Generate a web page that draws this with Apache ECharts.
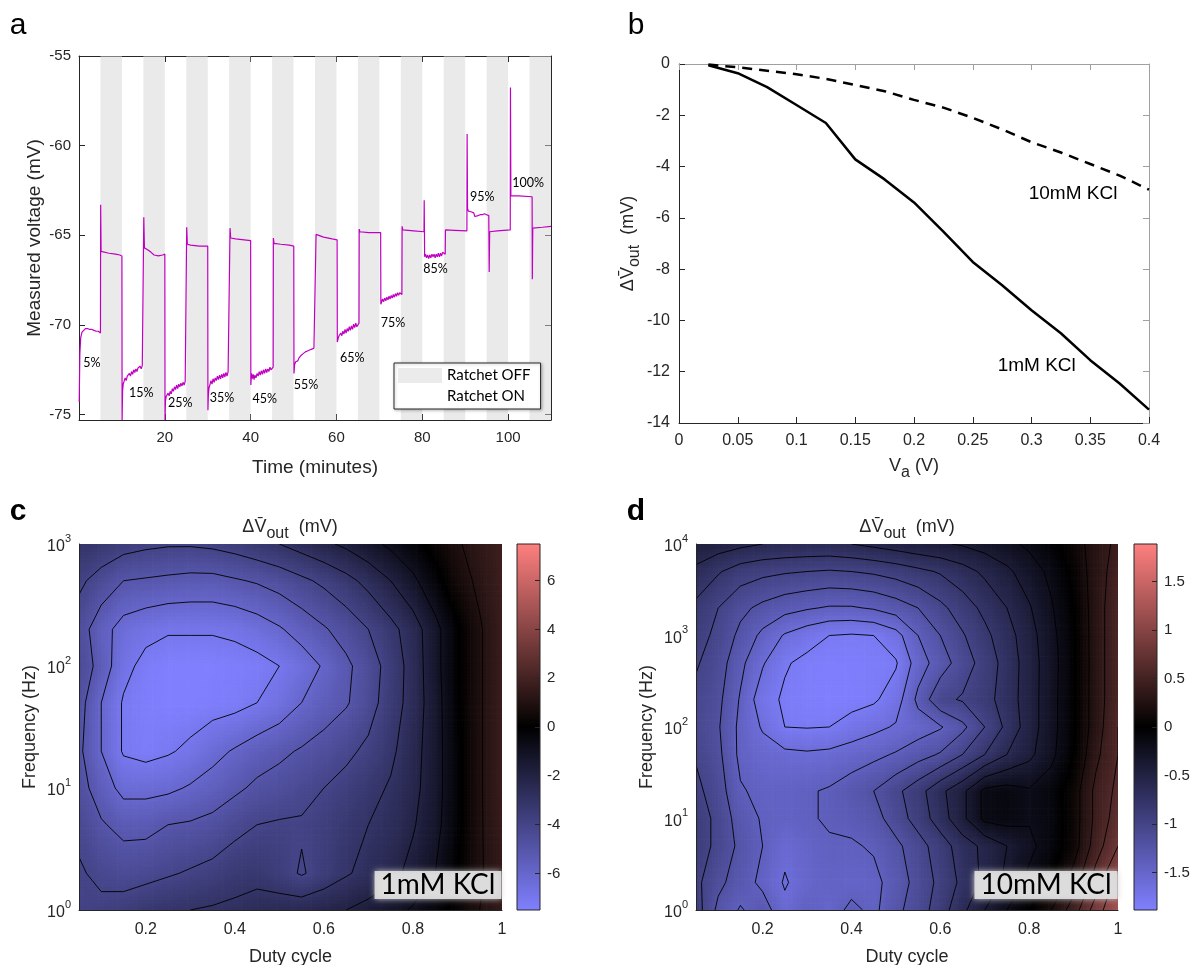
<!DOCTYPE html>
<html>
<head>
<meta charset="utf-8">
<script src="https://cdn.jsdelivr.net/npm/echarts@6/dist/echarts.min.js"></script>
<style>
  html, body { margin: 0; padding: 0; background: #fff; }
  #main { width: 1191px; height: 965px; }
</style>
</head>
<body>
<div id="main"></div>
<script>
// ---- panel a: measured voltage trace, [minutes, mV]
const trace = [
  // ON 5%
  [0.05,-74.3],[0.2,-71.6],[0.4,-70.7],[0.7,-70.4],[1.0,-70.3],[1.5,-70.2],[2.0,-70.2],[2.5,-70.25],[3.0,-70.25],[3.5,-70.3],[4.0,-70.35],[4.5,-70.35],[5.0,-70.45],
  // OFF
  [5.05,-63.3],[5.15,-65.9],[5.5,-65.95],[7.0,-66.0],[8.5,-66.05],[9.5,-66.1],[10.0,-66.15],
  // ON 15%
  [10.05,-75.3],[10.15,-73.7],[10.3,-73.3],[10.5,-73.15],[10.75,-72.95],[11.0,-73.1],[11.25,-72.85],[11.5,-72.95],[11.75,-72.7],[12.0,-72.85],[12.25,-72.6],[12.5,-72.75],[12.75,-72.5],[13.0,-72.65],[13.25,-72.45],[13.5,-72.6],[13.75,-72.4],[14.0,-72.5],[14.25,-72.3],[14.5,-72.45],[14.75,-72.25],[15.05,-72.35],
  // OFF
  [15.1,-64.0],[15.25,-65.7],[16.0,-65.8],[16.8,-65.95],[17.5,-66.1],[18.5,-66.15],[19.5,-66.1],[20.0,-66.05],
  // ON 25%
  [20.05,-75.3],[20.15,-74.25],[20.3,-74.0],[20.5,-74.1],[20.75,-73.8],[21.0,-73.95],[21.25,-73.7],[21.5,-73.85],[21.75,-73.55],[22.0,-73.7],[22.25,-73.45],[22.5,-73.6],[22.75,-73.35],[23.0,-73.55],[23.25,-73.3],[23.5,-73.45],[23.75,-73.25],[24.0,-73.4],[24.25,-73.2],[24.5,-73.35],[24.75,-73.15],[25.05,-73.25],
  // OFF
  [25.1,-64.55],[25.25,-65.5],[26.0,-65.55],[28.0,-65.6],[30.0,-65.6],
  // ON 35%
  [30.05,-74.75],[30.15,-73.9],[30.3,-73.5],[30.5,-73.35],[30.75,-73.1],[31.0,-73.3],[31.25,-73.0],[31.5,-73.2],[31.75,-72.95],[32.0,-73.1],[32.25,-72.85],[32.5,-73.05],[32.75,-72.8],[33.0,-73.0],[33.25,-72.75],[33.5,-72.95],[33.75,-72.7],[34.0,-72.9],[34.25,-72.65],[34.5,-72.85],[34.75,-72.6],[35.15,-72.7],
  // OFF
  [35.2,-64.6],[35.35,-65.15],[36.5,-65.2],[38.5,-65.25],[40.0,-65.3],
  // ON 45%
  [40.05,-73.35],[40.2,-72.7],[40.4,-73.0],[40.6,-72.75],[40.8,-73.05],[41.0,-72.8],[41.25,-72.95],[41.5,-72.7],[41.75,-72.85],[42.0,-72.6],[42.25,-72.8],[42.5,-72.55],[42.75,-72.75],[43.0,-72.5],[43.25,-72.7],[43.5,-72.45],[43.75,-72.65],[44.0,-72.45],[44.25,-72.6],[44.5,-72.35],[44.75,-72.5],[45.25,-72.35],
  // OFF
  [45.3,-65.15],[45.45,-65.45],[47.0,-65.5],[49.0,-65.55],[50.05,-65.6],
  // ON 55%
  [50.1,-72.7],[50.25,-72.2],[50.5,-72.05],[50.75,-71.95],[51.0,-72.0],[51.25,-71.85],[51.5,-71.9],[51.75,-71.7],[52.0,-71.8],[52.25,-71.6],[52.5,-71.7],[52.75,-71.5],[53.0,-71.6],[53.25,-71.45],[53.5,-71.55],[53.75,-71.4],[54.0,-71.5],[54.25,-71.35],[54.5,-71.45],[54.75,-71.3],[55.2,-71.35],
  // OFF
  [55.25,-64.95],[55.4,-65.0],[57.0,-65.1],[59.0,-65.2],[60.15,-65.25],
  // ON 65%
  [60.2,-70.95],[60.4,-70.75],[60.6,-70.6],[60.8,-70.7],[61.0,-70.45],[61.25,-70.6],[61.5,-70.35],[61.75,-70.5],[62.0,-70.25],[62.25,-70.45],[62.5,-70.2],[62.75,-70.35],[63.0,-70.1],[63.25,-70.3],[63.5,-70.05],[63.75,-70.25],[64.0,-69.95],[64.25,-70.15],[64.5,-69.9],[64.75,-70.1],[65.25,-69.9],
  // OFF
  [65.3,-64.65],[65.45,-64.8],[67.5,-64.85],[70.3,-64.85],
  // ON 75%
  [70.35,-68.85],[70.5,-68.75],[70.75,-68.55],[71.0,-68.7],[71.25,-68.5],[71.5,-68.65],[71.75,-68.45],[72.0,-68.6],[72.25,-68.4],[72.5,-68.55],[72.75,-68.35],[73.0,-68.5],[73.25,-68.3],[73.5,-68.45],[73.75,-68.25],[74.0,-68.4],[74.25,-68.2],[74.5,-68.35],[74.75,-68.2],[75.25,-68.3],
  // OFF
  [75.3,-64.5],[75.45,-64.7],[78.0,-64.75],[80.4,-64.8],
  // ON 85%
  [80.45,-63.05],[80.55,-66.2],[80.75,-66.05],[81.0,-66.25],[81.25,-66.1],[81.5,-66.3],[81.75,-66.1],[82.0,-66.25],[82.25,-66.05],[82.5,-66.2],[82.75,-66.05],[83.0,-66.25],[83.25,-66.05],[83.5,-66.2],[83.75,-66.0],[84.0,-66.2],[84.25,-66.0],[84.5,-66.15],[84.75,-65.95],[85.35,-66.05],
  // OFF
  [85.4,-64.7],[87.5,-64.72],[90.4,-64.75],
  // ON 95%
  [90.45,-59.35],[90.55,-63.5],[90.75,-63.65],[91.0,-63.6],[91.5,-63.7],[92.0,-63.75],[92.25,-63.95],[92.5,-64.0],[93.0,-63.9],[93.5,-63.85],[94.0,-63.85],[94.5,-63.8],[95.0,-63.85],[95.5,-63.9],
  // OFF
  [95.6,-67.05],[95.7,-64.8],[97.5,-64.75],[100.5,-64.7],
  // ON 100%
  [100.55,-56.75],[100.65,-62.8],[102.5,-62.8],[105.6,-62.85],
  // OFF
  [105.65,-67.45],[105.75,-64.6],[108.0,-64.55],[110.0,-64.5]
];
const offBands = [[5,10],[15,20],[25,30],[35,40],[45,50],[55,60],[65,70],[75,80],[85,90],[95,100],[105,110]];
const dutyLabels = ['5%','15%','25%','35%','45%','55%','65%','75%','85%','95%','100%'];
const dutyLabelTime = [3.0, 14.5, 23.6, 33.3, 43.3, 52.9, 63.7, 73.2, 83.1, 94.0, 104.7];
const dutyLabelVolt = [-72.1, -73.8, -74.37, -74.09, -74.13, -73.34, -71.85, -69.87, -66.88, -62.88, -62.1];

// ---- panel b: output change vs applied amplitude
const va = [0.025,0.05,0.075,0.1,0.125,0.15,0.175,0.2,0.225,0.25,0.275,0.3,0.325,0.35,0.375,0.4];
const dv1mM = [-0.05,-0.36,-0.9,-1.6,-2.3,-3.72,-4.5,-5.4,-6.54,-7.72,-8.63,-9.6,-10.5,-11.55,-12.46,-13.48];
const dv10mM = [-0.02,-0.13,-0.26,-0.4,-0.58,-0.82,-1.06,-1.4,-1.7,-2.1,-2.55,-3.05,-3.45,-3.9,-4.35,-4.9];
const kclLabels = ['10mM KCl', '1mM KCl'];
const kclLabelVa = [0.2976, 0.2712];
const kclLabelDv = [-5.07, -11.75];

// ---- panels c, d: duty cycle x frequency maps (rows = ascending frequency)
const dutyCycle = [0.05,0.1,0.15,0.2,0.25,0.3,0.35,0.4,0.45,0.5,0.55,0.6,0.65,0.7,0.75,0.8,0.85,0.9,0.95,1.0];
const freqC = [1, 2, 5, 10, 20, 50, 100, 200, 500, 1000];
const dvC = [
  [-3.9,-3.8,-3.6,-3.3,-3.1,-3.0,-2.9,-2.8,-2.6,-2.5,-2.4,-2.2,-2.0,-1.7,-1.3,-0.9,-0.4,0.3,1.0,1.5],
  [-3.9,-4.2,-4.4,-4.3,-4.1,-3.9,-3.7,-3.4,-3.3,-3.6,-4.1,-3.6,-3.1,-2.7,-2.3,-1.7,-1.0,0.0,0.9,1.5],
  [-4.2,-4.9,-5.3,-5.3,-5.0,-4.9,-4.7,-4.3,-4.0,-3.9,-3.9,-3.7,-3.3,-3.0,-2.7,-2.1,-1.3,-0.2,0.9,1.6],
  [-4.6,-5.5,-6.3,-6.3,-6.2,-5.9,-5.6,-5.2,-4.8,-4.6,-4.3,-4.0,-3.7,-3.3,-2.9,-2.3,-1.4,-0.2,0.9,1.7],
  [-4.8,-6.0,-7.1,-7.3,-7.1,-6.8,-6.3,-5.9,-5.5,-5.2,-4.9,-4.6,-4.2,-3.8,-3.2,-2.4,-1.4,-0.2,0.9,1.7],
  [-4.6,-6.0,-7.1,-7.4,-7.5,-7.5,-7.4,-7.3,-7.0,-6.6,-6.0,-5.5,-5.1,-4.4,-3.5,-2.6,-1.4,-0.1,0.9,1.7],
  [-4.3,-5.4,-6.7,-7.3,-7.5,-7.5,-7.5,-7.4,-7.3,-7.0,-6.5,-5.9,-5.2,-4.5,-3.6,-2.6,-1.3,-0.1,0.9,1.7],
  [-4.5,-5.6,-6.4,-6.7,-6.9,-6.9,-6.9,-6.8,-6.5,-6.1,-5.6,-5.1,-4.6,-4.0,-3.3,-2.5,-1.3,-0.1,0.9,1.7],
  [-3.8,-4.4,-5.0,-5.1,-5.2,-5.3,-5.3,-5.1,-4.9,-4.6,-4.2,-3.8,-3.3,-2.7,-2.0,-1.2,-0.3,0.6,1.2,1.8],
  [-3.0,-3.3,-3.6,-3.8,-3.9,-3.9,-3.8,-3.6,-3.3,-3.0,-2.6,-2.2,-1.8,-1.3,-0.8,-0.3,0.3,0.9,1.4,1.8]
];
const levelsC = [-7, -6, -5, -4, -3, -2, -1, 0, 1];
const colorMaxC = 7.5;

const freqD = [1, 2, 5, 10, 20, 50, 100, 200, 500, 1000, 2000, 5000, 10000];
const dvD = [
  [-0.9,-1.25,-1.42,-1.3,-1.55,-1.42,-1.5,-1.35,-1.45,-1.25,-1.1,-0.9,-0.65,-0.4,-0.2,0.0,0.2,0.5,0.9,1.2],
  [-0.95,-1.15,-1.3,-1.45,-1.62,-1.5,-1.45,-1.48,-1.45,-1.32,-1.12,-0.95,-0.75,-0.55,-0.35,-0.15,0.0,0.3,0.7,1.1],
  [-0.9,-1.05,-1.25,-1.4,-1.55,-1.48,-1.42,-1.42,-1.38,-1.25,-1.08,-0.9,-0.7,-0.55,-0.4,-0.25,-0.1,0.1,0.5,0.8],
  [-0.9,-1.05,-1.3,-1.42,-1.45,-1.42,-1.38,-1.35,-1.28,-1.1,-0.92,-0.7,-0.45,-0.15,-0.12,-0.18,-0.12,0.1,0.45,0.7],
  [-0.95,-1.1,-1.38,-1.45,-1.45,-1.42,-1.38,-1.3,-1.2,-1.05,-0.88,-0.65,-0.45,-0.15,-0.12,-0.18,-0.1,0.1,0.45,0.65],
  [-1.02,-1.15,-1.45,-1.52,-1.55,-1.57,-1.55,-1.5,-1.45,-1.38,-1.28,-1.18,-1.0,-0.8,-0.6,-0.45,-0.25,0.0,0.35,0.6],
  [-1.07,-1.18,-1.45,-1.62,-1.8,-1.81,-1.8,-1.72,-1.65,-1.58,-1.5,-1.42,-1.25,-1.0,-0.75,-0.5,-0.27,-0.02,0.3,0.6],
  [-1.05,-1.15,-1.42,-1.72,-1.83,-1.86,-1.88,-1.87,-1.83,-1.7,-1.35,-1.05,-0.98,-0.88,-0.7,-0.5,-0.27,-0.02,0.3,0.55],
  [-0.98,-1.1,-1.35,-1.58,-1.78,-1.85,-1.87,-1.86,-1.84,-1.82,-1.5,-1.3,-1.1,-0.92,-0.72,-0.5,-0.28,-0.03,0.3,0.55],
  [-0.92,-1.05,-1.25,-1.45,-1.62,-1.72,-1.8,-1.82,-1.8,-1.68,-1.4,-1.2,-1.02,-0.85,-0.68,-0.48,-0.26,-0.02,0.3,0.55],
  [-0.85,-1.0,-1.15,-1.25,-1.33,-1.38,-1.42,-1.42,-1.38,-1.3,-1.2,-1.05,-0.9,-0.75,-0.6,-0.42,-0.22,0.0,0.3,0.55],
  [-0.65,-0.78,-0.9,-0.95,-0.98,-1.0,-1.02,-1.0,-0.97,-0.92,-0.85,-0.78,-0.68,-0.56,-0.44,-0.3,-0.15,0.05,0.3,0.5],
  [-0.45,-0.5,-0.55,-0.6,-0.62,-0.63,-0.63,-0.6,-0.55,-0.5,-0.45,-0.42,-0.38,-0.32,-0.25,-0.16,-0.05,0.1,0.3,0.45]
];
const levelsD = [-1.8,-1.6,-1.4,-1.2,-1.0,-0.8,-0.6,-0.4,-0.2,0,0.2,0.4,0.6,0.8,1.0,1.2];
const colorMaxD = 1.885;

const lowColor = [128, 128, 255];
const highColor = [255, 128, 128];

const ink = '#262626';
const sans = '"Liberation Sans", Arial, sans-serif';
const soft = 'Lato, "Open Sans", sans-serif';

function merge(a, b) {
  for (const k in b) {
    const v = b[k];
    if (v && typeof v === 'object' && !Array.isArray(v) && a[k] && typeof a[k] === 'object') merge(a[k], v);
    else a[k] = v;
  }
  return a;
}

function valueAxis(gridIndex, opts) {
  return merge({
    type: 'value', gridIndex: gridIndex,
    axisLine: { show: true, onZero: false, lineStyle: { color: ink, width: 1 } },
    axisTick: { show: true, inside: true, length: 6, lineStyle: { color: ink } },
    axisLabel: { color: ink, fontSize: 15, fontFamily: sans },
    splitLine: { show: false },
    nameLocation: 'middle',
    nameTextStyle: { color: ink, fontSize: 19, fontFamily: sans }
  }, opts || {});
}

function rgb(c, k) {
  return 'rgb(' + Math.round(c[0] * k) + ',' + Math.round(c[1] * k) + ',' + Math.round(c[2] * k) + ')';
}
function cmap(z, zmax) {
  const t = Math.max(-1, Math.min(1, z / zmax));
  return t < 0 ? rgb(lowColor, -t) : rgb(highColor, t);
}

function cellData(xs, fs) {
  const out = [];
  for (let j = 0; j < fs.length - 1; j++)
    for (let i = 0; i < xs.length - 1; i++) out.push([xs[i], fs[j], i, j]);
  return out;
}

// pixel box and corner values of one grid cell: c0 bottom-left, c1 bottom-right, c2 top-right, c3 top-left
function cellBox(api, xs, fs, zs) {
  const i = api.value(2), j = api.value(3);
  const p0 = api.coord([xs[i], fs[j]]);
  const p1 = api.coord([xs[i + 1], fs[j + 1]]);
  return {
    x: p0[0], y: p0[1], w: p1[0] - p0[0], h: p0[1] - p1[1],
    z: [zs[j][i], zs[j][i + 1], zs[j + 1][i + 1], zs[j + 1][i]]
  };
}

function shadeSeries(xi, yi, xs, fs, zs, zmax) {
  return {
    type: 'custom', xAxisIndex: xi, yAxisIndex: yi, silent: true, clip: true, z: 1,
    data: cellData(xs, fs), encode: { x: 0, y: 1 },
    renderItem: function (params, api) {
      const c = cellBox(api, xs, fs, zs);
      const nx = Math.max(1, Math.ceil(c.w / 3.5)), ny = Math.max(1, Math.ceil(c.h / 3.5));
      const kids = [];
      for (let a = 0; a < nx; a++) {
        for (let b = 0; b < ny; b++) {
          const u = (a + 0.5) / nx, v = (b + 0.5) / ny;
          const z = c.z[0] * (1 - u) * (1 - v) + c.z[1] * u * (1 - v) + c.z[2] * u * v + c.z[3] * (1 - u) * v;
          kids.push({
            type: 'rect',
            shape: { x: c.x + a * c.w / nx, y: c.y - (b + 1) * c.h / ny, width: c.w / nx + 0.7, height: c.h / ny + 0.7 },
            style: { fill: cmap(z, zmax) }
          });
        }
      }
      return { type: 'group', children: kids };
    }
  };
}

const cornerUV = [[0, 0], [1, 0], [1, 1], [0, 1]];
function contourSeries(xi, yi, xs, fs, zs, levels) {
  return {
    type: 'custom', xAxisIndex: xi, yAxisIndex: yi, silent: true, clip: true, z: 2,
    data: cellData(xs, fs), encode: { x: 0, y: 1 },
    renderItem: function (params, api) {
      const c = cellBox(api, xs, fs, zs);
      const kids = [];
      const seg = function (p, q) {
        kids.push({
          type: 'line',
          shape: { x1: c.x + p[0] * c.w, y1: c.y - p[1] * c.h, x2: c.x + q[0] * c.w, y2: c.y - q[1] * c.h },
          style: { stroke: '#000', lineWidth: 0.9 }
        });
      };
      levels.forEach(function (L) {
        const pts = [];
        for (let e = 0; e < 4; e++) {
          const a = e, b = (e + 1) % 4;
          const za = c.z[a] - L, zb = c.z[b] - L;
          if ((za < 0) !== (zb < 0)) {
            const t = za / (za - zb);
            pts[e] = [cornerUV[a][0] + t * (cornerUV[b][0] - cornerUV[a][0]), cornerUV[a][1] + t * (cornerUV[b][1] - cornerUV[a][1])];
          }
        }
        const idx = [0, 1, 2, 3].filter(function (e) { return pts[e]; });
        if (idx.length === 2) seg(pts[idx[0]], pts[idx[1]]);
        else if (idx.length === 4) {
          const mid = (c.z[0] + c.z[1] + c.z[2] + c.z[3]) / 4 - L;
          if ((c.z[0] - L < 0) === (mid < 0)) { seg(pts[0], pts[1]); seg(pts[2], pts[3]); }
          else { seg(pts[3], pts[0]); seg(pts[1], pts[2]); }
        }
      });
      return { type: 'group', children: kids };
    }
  };
}

function colorbarSeries(xi, yi, zmax) {
  return {
    type: 'custom', xAxisIndex: xi, yAxisIndex: yi, silent: true, z: 1,
    data: [[0, -zmax]], encode: { x: 0, y: 1 },
    renderItem: function (params, api) {
      const a = api.coord([0, zmax]), b = api.coord([1, -zmax]);
      return {
        type: 'rect',
        shape: { x: a[0], y: a[1], width: b[0] - a[0], height: b[1] - a[1] },
        style: {
          fill: new echarts.graphic.LinearGradient(0, 0, 0, 1, [
            { offset: 0, color: rgb(highColor, 1) },
            { offset: 0.5, color: '#000' },
            { offset: 1, color: rgb(lowColor, 1) }
          ]),
          stroke: ink, lineWidth: 1
        }
      };
    }
  };
}

function logLabel(v) {
  return '{b|10}{p|' + Math.round(Math.log10(v)) + '}';
}
const logRich = {
  b: { fontSize: 16, fontFamily: sans, color: ink, lineHeight: 22, verticalAlign: 'bottom' },
  p: { fontSize: 11, fontFamily: sans, color: ink, lineHeight: 11, verticalAlign: 'top' }
};
const dvRich = {
  t: { fontSize: 18, fontFamily: sans, color: ink, fill: ink, lineHeight: 22, verticalAlign: 'top' },
  s: { fontSize: 16, fontFamily: sans, color: ink, fill: ink, lineHeight: 16, padding: [8, 0, 0, 0], verticalAlign: 'top' }
};
const dvName = '{t|\u0394V\u0304}{s|out}{t|  (mV)}';

function mapAxes(gridIndex, fmax, nameGapY) {
  const x = valueAxis(gridIndex, {
    min: 0.05, max: 1, splitNumber: 5, minInterval: 0.2, maxInterval: 0.2, z: 5,
    axisTick: { show: false },
    axisLabel: { fontSize: 16, showMinLabel: false, margin: 12 },
    name: 'Duty cycle', nameGap: 38, nameTextStyle: { fontSize: 18 }
  });
  const y = {
    type: 'log', gridIndex: gridIndex, min: 1, max: fmax, logBase: 10, z: 5,
    axisLine: { show: true, lineStyle: { color: ink } },
    axisTick: { show: false },
    splitLine: { show: false },
    axisLabel: { formatter: logLabel, rich: logRich, margin: 8 },
    name: 'Frequency (Hz)', nameLocation: 'middle', nameRotate: 90, nameGap: nameGapY,
    nameTextStyle: { color: ink, fontSize: 18, fontFamily: sans }
  };
  return [x, y];
}

function barAxes(gridIndex, zmax, step) {
  return [
    { type: 'value', gridIndex: gridIndex, min: 0, max: 1, show: false },
    valueAxis(gridIndex, {
      position: 'right', min: -zmax, max: zmax, splitNumber: 7, minInterval: step, maxInterval: step, z: 5,
      axisLine: { show: false },
      axisTick: { inside: true, length: 5 },
      axisLabel: { fontSize: 15, showMinLabel: false, showMaxLabel: false, margin: 7 }
    })
  ];
}

const mapC = mapAxes(2, 1000, 40);
const barC = barAxes(3, colorMaxC, 2);
const mapD = mapAxes(4, 10000, 40);
const barD = barAxes(5, colorMaxD, 0.5);

const annot = { color: '#000', opacity: 1 };

const option = {
  animation: false,
  backgroundColor: '#fff',
  textStyle: { fontFamily: sans },
  grid: [
    { left: 79, top: 56, width: 472, height: 364, outerBoundsMode: 'none' },
    { left: 679, top: 64, width: 470, height: 359, outerBoundsMode: 'none' },
    { left: 79, top: 544, width: 423, height: 366, outerBoundsMode: 'none' },
    { left: 517, top: 544, width: 23, height: 366, outerBoundsMode: 'none' },
    { left: 696, top: 544, width: 422, height: 366, outerBoundsMode: 'none' },
    { left: 1134, top: 544, width: 23, height: 366, outerBoundsMode: 'none' }
  ],
  xAxis: [
    valueAxis(0, { min: 0, max: 110, interval: 20, axisLabel: { showMinLabel: false, showMaxLabel: false, margin: 10 },
      name: 'Time (minutes)', nameGap: 38 }),
    valueAxis(0, { position: 'top', min: 0, max: 110, interval: 20, axisLabel: { show: false } }),
    valueAxis(1, { min: 0, max: 0.4, interval: 0.05, axisLabel: { fontSize: 16, margin: 10 },
      name: '{t|V}{s|a}{t| (V)}', nameGap: 34, nameTextStyle: { rich: dvRich } }),
    valueAxis(1, { position: 'top', min: 0, max: 0.4, interval: 0.05, axisLabel: { show: false },
      axisLine: { lineStyle: { color: '#a0a0a0' } }, axisTick: { lineStyle: { color: '#a0a0a0' } } }),
    mapC[0], barC[0], mapD[0], barD[0]
  ],
  yAxis: [
    valueAxis(0, { min: -75.3, max: -55, splitNumber: 4, minInterval: 5, maxInterval: 5,
      axisLabel: { showMinLabel: false, margin: 8 }, name: 'Measured voltage (mV)', nameRotate: 90, nameGap: 35 }),
    valueAxis(0, { position: 'right', min: -75.3, max: -55, splitNumber: 4, minInterval: 5, maxInterval: 5,
      axisLabel: { show: false } }),
    valueAxis(1, { min: -14, max: 0, interval: 2, axisLabel: { fontSize: 16, margin: 9 },
      name: dvName, nameRotate: 90, nameGap: 35, nameTextStyle: { rich: dvRich } }),
    valueAxis(1, { position: 'right', min: -14, max: 0, interval: 2, axisLabel: { show: false },
      axisLine: { lineStyle: { color: '#a0a0a0' } }, axisTick: { lineStyle: { color: '#a0a0a0' } } }),
    mapC[1], barC[1], mapD[1], barD[1]
  ],
  legend: {
    orient: 'vertical', left: 394, top: 363,
    itemWidth: 44, itemHeight: 15, itemGap: 6,
    padding: [5, 10, 5, 4],
    borderColor: ink, borderWidth: 1, backgroundColor: '#fff',
    shadowBlur: 3, shadowColor: 'rgba(0,0,0,0.25)', shadowOffsetX: 1, shadowOffsetY: 1,
    selectedMode: false,
    textStyle: { fontSize: 15, fontFamily: soft, color: '#000' },
    data: [
      { name: 'Ratchet OFF', icon: 'rect', itemStyle: { color: '#ebebeb' } },
      { name: 'Ratchet ON', icon: 'rect', itemStyle: { color: '#ffffff' } }
    ]
  },
  graphic: [
    { type: 'text', x: 18, y: 26, style: { text: 'a', font: '30px ' + sans, fill: '#000', align: 'center', verticalAlign: 'middle' } },
    { type: 'text', x: 636, y: 26, style: { text: 'b', font: '30px ' + sans, fill: '#000', align: 'center', verticalAlign: 'middle' } },
    { type: 'text', x: 18, y: 512, style: { text: 'c', font: 'bold 30px ' + sans, fill: '#000', align: 'center', verticalAlign: 'middle' } },
    { type: 'text', x: 636, y: 512, style: { text: 'd', font: 'bold 30px ' + sans, fill: '#000', align: 'center', verticalAlign: 'middle' } },
    { type: 'text', x: 290, y: 529, style: { text: dvName, rich: dvRich, align: 'center', verticalAlign: 'middle' } },
    { type: 'text', x: 907, y: 529, style: { text: dvName, rich: dvRich, align: 'center', verticalAlign: 'middle' } },
    { type: 'text', x: 438, y: 885, z: 10, style: { text: '1mM KCl', font: '28px ' + soft, fill: '#000', align: 'center', verticalAlign: 'middle',
      backgroundColor: 'rgba(222,222,222,0.92)', padding: [0, 6, 0, 6], shadowBlur: 6, shadowColor: 'rgba(210,210,210,1)' } },
    { type: 'text', x: 1046, y: 885, z: 10, style: { text: '10mM KCl', font: '28px ' + soft, fill: '#000', align: 'center', verticalAlign: 'middle',
      backgroundColor: 'rgba(222,222,222,0.92)', padding: [0, 6, 0, 6], shadowBlur: 6, shadowColor: 'rgba(210,210,210,1)' } }
  ],
  series: [
    {
      name: 'trace', type: 'line', xAxisIndex: 0, yAxisIndex: 0, data: trace,
      showSymbol: false, symbol: 'none', z: 2,
      lineStyle: { color: '#c000c0', width: 1.2 }, itemStyle: { color: '#c000c0' }
    },
    {
      name: 'Ratchet OFF', type: 'line', xAxisIndex: 0, yAxisIndex: 0, data: [], z: 3,
      itemStyle: { color: '#ebebeb' },
      markArea: {
        silent: true,
        itemStyle: { color: 'rgba(214,214,214,0.5)' },
        data: offBands.map(function (b) { return [{ xAxis: b[0] }, { xAxis: b[1] }]; })
      }
    },
    { name: 'Ratchet ON', type: 'line', xAxisIndex: 0, yAxisIndex: 0, data: [], itemStyle: { color: '#ffffff' } },
    {
      name: 'duty', type: 'scatter', xAxisIndex: 0, yAxisIndex: 0, z: 4, symbolSize: 0,
      itemStyle: annot,
      label: { show: true, position: 'inside', formatter: '{b}', color: '#000', fontSize: 12.5, fontFamily: soft },
      data: dutyLabels.map(function (n, i) { return { name: n, value: [dutyLabelTime[i], dutyLabelVolt[i]] }; })
    },
    {
      name: '1mM KCl', type: 'line', xAxisIndex: 2, yAxisIndex: 2, showSymbol: false, symbol: 'none',
      data: va.map(function (x, i) { return [x, dv1mM[i]]; }),
      lineStyle: { color: '#000', width: 2.5 }
    },
    {
      name: '10mM KCl', type: 'line', xAxisIndex: 2, yAxisIndex: 2, showSymbol: false, symbol: 'none',
      data: va.map(function (x, i) { return [x, dv10mM[i]]; }),
      lineStyle: { color: '#000', width: 2.5, type: [10, 7] }
    },
    {
      name: 'kcl', type: 'scatter', xAxisIndex: 2, yAxisIndex: 2, symbolSize: 0,
      itemStyle: annot,
      label: { show: true, position: 'right', distance: 0, formatter: '{b}', color: '#000', fontSize: 19, fontFamily: sans },
      data: kclLabels.map(function (n, i) { return { name: n, value: [kclLabelVa[i], kclLabelDv[i]] }; })
    },
    shadeSeries(4, 4, dutyCycle, freqC, dvC, colorMaxC),
    contourSeries(4, 4, dutyCycle, freqC, dvC, levelsC),
    colorbarSeries(5, 5, colorMaxC),
    shadeSeries(6, 6, dutyCycle, freqD, dvD, colorMaxD),
    contourSeries(6, 6, dutyCycle, freqD, dvD, levelsD),
    colorbarSeries(7, 7, colorMaxD)
  ]
};

const chart = echarts.init(document.getElementById('main'), null, { renderer: 'canvas' });
chart.setOption(option);
</script>
</body>
</html>
